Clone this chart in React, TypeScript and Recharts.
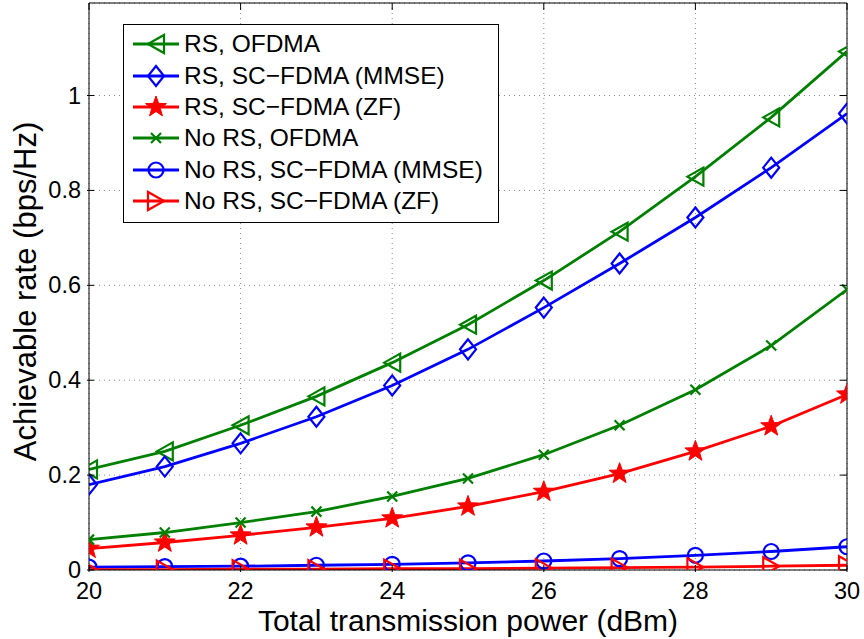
import * as React from "react";
import {
  LineChart,
  Line,
  XAxis,
  YAxis,
  CartesianGrid,
  ReferenceLine,
} from "recharts";

const power = [20, 21, 22, 23, 24, 25, 26, 27, 28, 29, 30];

const rsOfdma = [0.212, 0.25, 0.305, 0.366, 0.437, 0.517, 0.61, 0.713, 0.829, 0.954, 1.093];
const rsScMmse = [0.18, 0.218, 0.267, 0.323, 0.389, 0.465, 0.553, 0.646, 0.743, 0.848, 0.962];
const rsScZf = [0.045, 0.058, 0.073, 0.09, 0.109, 0.134, 0.165, 0.203, 0.25, 0.303, 0.37];
const noRsOfdma = [0.064, 0.079, 0.1, 0.123, 0.155, 0.193, 0.243, 0.305, 0.38, 0.473, 0.591];
const noRsScMmse = [0.006, 0.007, 0.008, 0.01, 0.012, 0.015, 0.019, 0.024, 0.031, 0.039, 0.049];
const noRsScZf = [0.001, 0.001, 0.002, 0.002, 0.003, 0.003, 0.004, 0.005, 0.006, 0.008, 0.01];

const xTicks = [20, 22, 24, 26, 28, 30];
const yTicks = [0, 0.2, 0.4, 0.6, 0.8, 1];

const FONT = "'Liberation Sans', Arial, Helvetica, sans-serif";
const GREEN = "#008000";
const BLUE = "#0000ff";
const RED = "#ff0000";
const Y_MAX = 1.195;
const PLOT_TOP = 3;
const PLOT_RIGHT = 847;

const data = power.map((p, i) => ({
  p,
  rsOfdma: rsOfdma[i],
  rsScMmse: rsScMmse[i],
  rsScZf: rsScZf[i],
  noRsOfdma: noRsOfdma[i],
  noRsScMmse: noRsScMmse[i],
  noRsScZf: noRsScZf[i],
}));

type Shape = "left" | "diamond" | "star" | "x" | "circle" | "right";

const series: { key: string; name: string; color: string; shape: Shape }[] = [
  { key: "rsOfdma", name: "RS, OFDMA", color: GREEN, shape: "left" },
  { key: "rsScMmse", name: "RS, SC\u2212FDMA (MMSE)", color: BLUE, shape: "diamond" },
  { key: "rsScZf", name: "RS, SC\u2212FDMA (ZF)", color: RED, shape: "star" },
  { key: "noRsOfdma", name: "No RS, OFDMA", color: GREEN, shape: "x" },
  { key: "noRsScMmse", name: "No RS, SC\u2212FDMA (MMSE)", color: BLUE, shape: "circle" },
  { key: "noRsScZf", name: "No RS, SC\u2212FDMA (ZF)", color: RED, shape: "right" },
];

function starPoints(cx: number, cy: number, ro: number, ri: number) {
  const pts: string[] = [];
  for (let k = 0; k < 10; k++) {
    const r = k % 2 === 0 ? ro : ri;
    const a = -Math.PI / 2 + (k * Math.PI) / 5;
    pts.push(`${cx + r * Math.cos(a)},${cy + r * Math.sin(a)}`);
  }
  return pts.join(" ");
}

const Marker = ({ cx, cy, shape, color }: { cx: number; cy: number; shape: Shape; color: string }) => {
  const sw = 2.2;
  switch (shape) {
    case "left":
      return (
        <polygon
          points={`${cx - 8},${cy} ${cx + 8},${cy - 9} ${cx + 8},${cy + 9}`}
          fill="none"
          stroke={color}
          strokeWidth={sw}
        />
      );
    case "right":
      return (
        <polygon
          points={`${cx + 8},${cy} ${cx - 8},${cy - 9} ${cx - 8},${cy + 9}`}
          fill="none"
          stroke={color}
          strokeWidth={sw}
        />
      );
    case "diamond":
      return (
        <polygon
          points={`${cx},${cy - 10} ${cx + 8},${cy} ${cx},${cy + 10} ${cx - 8},${cy}`}
          fill="none"
          stroke={color}
          strokeWidth={sw}
        />
      );
    case "star":
      return <polygon points={starPoints(cx, cy, 11, 4.5)} fill={color} stroke={color} strokeWidth={1} />;
    case "x":
      return (
        <g stroke={color} strokeWidth={sw}>
          <line x1={cx - 5} y1={cy - 5} x2={cx + 5} y2={cy + 5} />
          <line x1={cx - 5} y1={cy + 5} x2={cx + 5} y2={cy - 5} />
        </g>
      );
    case "circle":
      return <circle cx={cx} cy={cy} r={7.5} fill="none" stroke={color} strokeWidth={sw} />;
  }
  return null;
};

const XTick = (props: any) => {
  const { x, y, payload } = props;
  return (
    <g>
      <line x1={x} y1={y} x2={x} y2={y - 7} stroke="#000" />
      <line x1={x} y1={PLOT_TOP} x2={x} y2={PLOT_TOP + 7} stroke="#000" />
      <text x={x} y={y + 27} textAnchor="middle" fontSize={23.5} fontFamily={FONT} fill="#000">
        {payload.value}
      </text>
    </g>
  );
};

const YTick = (props: any) => {
  const { x, y, payload } = props;
  return (
    <g>
      <line x1={x} y1={y} x2={x + 7} y2={y} stroke="#000" />
      <line x1={PLOT_RIGHT} y1={y} x2={PLOT_RIGHT - 7} y2={y} stroke="#000" />
      <text x={x - 6} y={y + 8} textAnchor="end" fontSize={23.5} fontFamily={FONT} fill="#000">
        {payload.value}
      </text>
    </g>
  );
};

const LegendBox = () => (
  <div
    style={{
      position: "absolute",
      left: 123,
      top: 24,
      width: 374,
      height: 193.4,
      border: "1px solid #000",
      background: "#fff",
      paddingTop: 3.6,
      boxSizing: "content-box",
      fontFamily: FONT,
      fontSize: 24.5,
    }}
  >
    {series.map((s) => (
      <div key={s.key} style={{ height: 31.4, display: "flex", alignItems: "center" }}>
        <svg width={46} height={30} style={{ marginLeft: 9, flex: "none" }}>
          <line x1={0} y1={15} x2={46} y2={15} stroke={s.color} strokeWidth={2.8} />
          <Marker cx={23} cy={15} shape={s.shape} color={s.color} />
        </svg>
        <span style={{ marginLeft: 5, whiteSpace: "nowrap" }}>{s.name}</span>
      </div>
    ))}
  </div>
);

export default function App() {
  return (
    <div style={{ position: "absolute", left: 0, top: 0, width: 864, height: 639, background: "#fff" }}>
      <LineChart
        width={864}
        height={639}
        data={data}
        margin={{ top: PLOT_TOP, right: 864 - PLOT_RIGHT, left: 0, bottom: 0 }}
      >
        <CartesianGrid stroke="#888" strokeDasharray="1 4" />
        <XAxis
          dataKey="p"
          type="number"
          domain={[20, 30]}
          ticks={xTicks}
          height={69}
          tickSize={0}
          tickLine={false}
          axisLine={{ stroke: "#000" }}
          tick={<XTick />}
          label={{
            value: "Total transmission power (dBm)",
            position: "insideBottom",
            offset: 8,
            fontSize: 30,
            fontFamily: FONT,
            fill: "#000",
          }}
          allowDataOverflow
        />
        <YAxis
          type="number"
          domain={[0, Y_MAX]}
          ticks={yTicks}
          width={89}
          tickSize={0}
          tickLine={false}
          axisLine={{ stroke: "#000" }}
          tick={<YTick />}
          label={{
            value: "Achievable rate (bps/Hz)",
            angle: -90,
            position: "insideLeft",
            offset: 25,
            dy: 5,
            fontSize: 31,
            fontFamily: FONT,
            fill: "#000",
            style: { textAnchor: "middle" },
          }}
          allowDataOverflow
        />
        <ReferenceLine y={Y_MAX} stroke="#000" />
        <ReferenceLine x={30} stroke="#000" />
        {series.map((s) => (
          <Line
            key={s.key}
            type="linear"
            dataKey={s.key}
            name={s.name}
            stroke={s.color}
            strokeWidth={2.8}
            isAnimationActive={false}
            dot={(props: any) => (
              <Marker key={`${s.key}-${props.index}`} cx={props.cx} cy={props.cy} shape={s.shape} color={s.color} />
            )}
            activeDot={false}
          />
        ))}
      </LineChart>
      <LegendBox />
    </div>
  );
}
